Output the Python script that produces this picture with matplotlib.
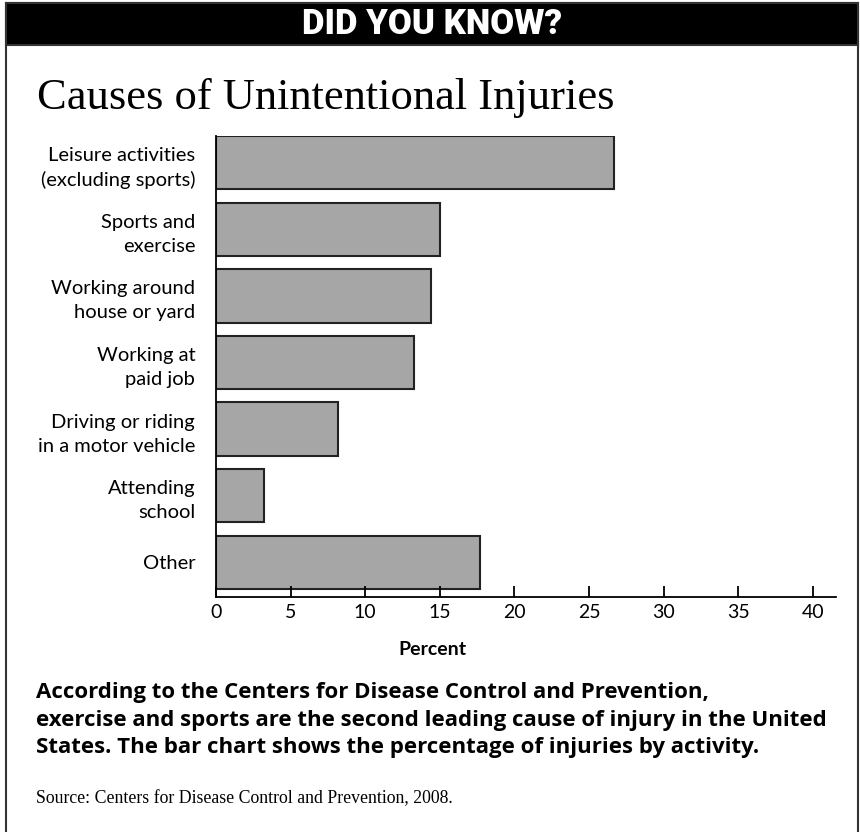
import matplotlib
matplotlib.use("Agg")
import matplotlib.pyplot as plt
from matplotlib.patches import Rectangle

# dados
categorias = [
    "Leisure activities\n(excluding sports)",
    "Sports and\nexercise",
    "Working around\nhouse or yard",
    "Working at\npaid job",
    "Driving or riding\nin a motor vehicle",
    "Attending\nschool",
    "Other",
]
percentuais = [26.7, 15.0, 14.4, 13.3, 8.2, 3.2, 17.7]
ticks_x = [0, 5, 10, 15, 20, 25, 30, 35, 40]

W, H = 860, 832
fig = plt.figure(figsize=(W / 100, H / 100), dpi=100)

# moldura e faixa preta do topo
fig.patches.append(Rectangle((6 / W, -0.05), 852 / W, 1 - 3 / H + 0.05,
                             transform=fig.transFigure, fill=False,
                             edgecolor="#333333", linewidth=1.5))
fig.patches.append(Rectangle((6 / W, 1 - 45 / H), 852 / W, 42 / H,
                             transform=fig.transFigure, facecolor="black",
                             edgecolor="#333333", linewidth=1.5))
fig.text(432 / W, 1 - 25 / H, "DID YOU KNOW?", color="white", fontsize=25,
         fontweight=900, family="Roboto", ha="center", va="center")

fig.text(37 / W, 1 - 109 / H, "Causes of Unintentional Injuries", fontsize=32,
         fontweight="normal", family="Liberation Serif", ha="left", va="baseline")

ax = fig.add_axes([216 / W, 1 - 597 / H, 620 / W, 461 / H])
y = list(range(len(categorias)))
ax.barh(y, percentuais, height=0.8, color="#a6a6a6", edgecolor="#222222",
        linewidth=1.5)
ax.set_ylim(6.52, -0.4)
ax.set_xlim(0, 41.55)
ax.set_yticks(y)
ax.set_yticklabels(categorias, fontsize=14.5, family="Lato", ha="right",
                   linespacing=1.5)
ax.set_xticks(ticks_x)
ax.set_xticklabels([str(t) for t in ticks_x], fontsize=14, family="Lato")
ax.tick_params(axis="y", length=0, pad=15)
ax.tick_params(axis="x", direction="in", length=8, width=1.3, pad=5)
for lado in ["top", "right"]:
    ax.spines[lado].set_visible(False)
ax.spines["left"].set_linewidth(1.3)
ax.spines["bottom"].set_linewidth(1.3)

fig.text(432 / W, 1 - 655 / H, "Percent", fontsize=14, fontweight="bold",
         family="Lato", ha="center", va="baseline")

texto = ("According to the Centers for Disease Control and Prevention,\n"
         "exercise and sports are the second leading cause of injury in the United\n"
         "States. The bar chart shows the percentage of injuries by activity.")
fig.text(36 / W, 1 - 682 / H, texto, fontsize=16, fontweight="bold",
         family="Open Sans", ha="left", va="top", linespacing=1.42)

fig.text(36 / W, 1 - 803 / H, "Source: Centers for Disease Control and Prevention, 2008.",
         fontsize=12.8, family="Liberation Serif", ha="left", va="baseline")

fig.savefig("out.png", dpi=100)
